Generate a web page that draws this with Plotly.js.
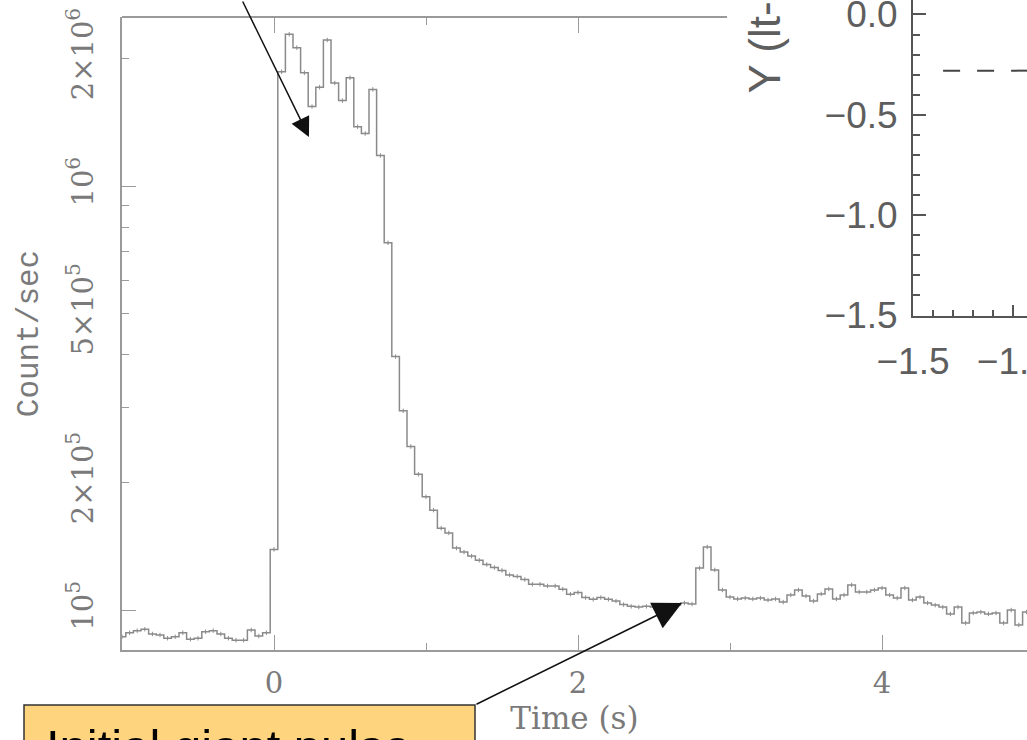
<!DOCTYPE html>
<html>
<head>
<meta charset="utf-8">
<script src="https://cdn.plot.ly/plotly-3.0.1.min.js"></script>
<style>html,body{margin:0;padding:0;background:#fff;overflow:hidden}</style>
</head>
<body>
<div id="chart" style="width:1027px;height:740px"></div>
<script>
// ---- light curve: bin centres (s) and count rates (counts/s) ----
const timeSec = [
 -1.00,-0.95,-0.90,-0.85,-0.80,-0.75,-0.70,-0.65,-0.60,-0.55,
 -0.50,-0.45,-0.40,-0.35,-0.30,-0.25,-0.20,-0.15,-0.10,-0.05,
  0.00, 0.05, 0.10, 0.15, 0.20, 0.25, 0.30, 0.35, 0.40, 0.45,
  0.50, 0.55, 0.60, 0.65, 0.70, 0.75, 0.80, 0.85, 0.90, 0.95,
  1.00, 1.05, 1.10, 1.15, 1.20, 1.25, 1.30, 1.35, 1.40, 1.45,
  1.50, 1.55, 1.60, 1.65, 1.70, 1.75, 1.80, 1.85, 1.90, 1.95,
  2.00, 2.05, 2.10, 2.15, 2.20, 2.25, 2.30, 2.35, 2.40, 2.45,
  2.50, 2.55, 2.60, 2.65, 2.70, 2.75, 2.80, 2.85, 2.90, 2.95,
  3.00, 3.05, 3.10, 3.15, 3.20, 3.25, 3.30, 3.35, 3.40, 3.45,
  3.50, 3.55, 3.60, 3.65, 3.70, 3.75, 3.80, 3.85, 3.90, 3.95,
  4.00, 4.05, 4.10, 4.15, 4.20, 4.25, 4.30, 4.35, 4.40, 4.45,
  4.50, 4.55, 4.60, 4.65, 4.70, 4.75, 4.80, 4.85, 4.90, 4.95
];
const countRate = [
  86500, 88400, 89400, 90100, 87800, 87300, 85800, 86500, 88400, 85300,
  85800, 88900, 89400, 87800, 85800, 84900, 84900, 89700, 86800, 88400,
  139000,1860000,2280000,2120000,1850000,1540000,1710000,2210000,1750000,1590000,
  1800000,1380000,1330000,1690000,1180000, 735000, 396000, 295000, 243000, 209000,
  185000, 172000, 156000, 152000, 140000, 137000, 134000, 131000, 128000, 126000,
  124000, 121000, 120000, 118000, 115000, 115000, 114000, 114000, 112000, 109000,
  110000, 107000, 106000, 107000, 106000, 105000, 103000, 102000, 101600, 102000,
  101600, 101100, 102000, 102700, 103900, 103300, 125600, 140800, 124300, 111500,
  107300, 106200, 106700, 106200, 106700, 105600, 106200, 104400, 108500, 111500,
  107900, 105000, 109100, 112100, 106200, 108500, 114600, 110300, 110300, 111500,
  112700, 108500, 106700, 112700, 105600, 107300, 103900, 102700, 101600, 97900,
  101600, 93200, 98400, 98900, 97900, 98400, 93200, 100000, 92200, 98900
];

// ---- tick labels ----
const xTickVals = [0, 2, 4];
const yTickVals = [1e5, 2e5, 5e5, 1e6, 2e6];
const yTickText = ['10<sup>5</sup>', '2×10<sup>5</sup>', '5×10<sup>5</sup>', '10<sup>6</sup>', '2×10<sup>6</sup>'];
const yMinorVals = [3e5, 4e5, 6e5, 7e5, 8e5, 9e5];
const yMajorVals = [1e5, 1e6];

// ---- inset (partially visible) ----
const insetX = [-1.35, -0.93];
const insetY = [-0.28, -0.28];
const insetXTicks = [-1.5, -1.0];
const insetYTicks = [-1.5, -1.0, -0.5, 0.0];

// ---- annotation targets ----
const arrowTargets = {pulse: [0.23, 1.305e6], spike: [2.684, 1.039e5]};

const gray = '#8a8a8a';
const axGray = '#9a9a9a';
const txtGray = '#7a7a7a';
const inGray = '#5e5e5e';
const serif = 'DejaVu Serif, serif';
const sans = 'Liberation Sans, Arial, sans-serif';

const W = 1027, H = 740;
const mL = 122, mR = 0, mT = 0, mB = 90;
const pw = W - mL - mR, ph = H - mT - mB;
const px2x = p => (p - mL) / pw;
const py2y = p => (ph + mT - p) / ph;

const yTop = py2y(17);
const xTopEnd = px2x(727);
const tScale = 152;
const insetL = px2x(913);
const insetB = py2y(315.5);
const insetScale = 200.7;

const traces = [
  {
    type: 'scatter', mode: 'lines', x: timeSec, y: countRate,
    line: {shape: 'hvh', color: gray, width: 1.5},
    error_y: {type: 'percent', value: 1.2, color: gray, thickness: 1, width: 0},
    xaxis: 'x', yaxis: 'y', hoverinfo: 'skip', showlegend: false
  },
  {type: 'scatter', mode: 'lines', x: [], y: [], xaxis: 'x', yaxis: 'y3', showlegend: false, hoverinfo: 'skip'},
  {type: 'scatter', mode: 'lines', x: [], y: [], xaxis: 'x3', yaxis: 'y', showlegend: false, hoverinfo: 'skip'},
  {
    type: 'scatter', mode: 'lines', x: insetX, y: insetY,
    line: {color: '#444', width: 2, dash: '17px,17px'},
    xaxis: 'x2', yaxis: 'y2', hoverinfo: 'skip', showlegend: false
  }
];

const layout = {
  width: W, height: H,
  margin: {l: mL, r: mR, t: mT, b: mB},
  paper_bgcolor: '#ffffff',
  plot_bgcolor: 'rgba(0,0,0,0)',
  showlegend: false,
  xaxis: {
    domain: [0, 1], anchor: 'y',
    range: [-1, -1 + pw / tScale],
    showline: true, linecolor: axGray, linewidth: 1.5,
    ticks: 'inside', tickmode: 'array', tickvals: xTickVals, ticktext: xTickVals.map(String),
    ticklen: 15, tickwidth: 1.2, tickcolor: axGray,
    minor: {ticks: 'inside', dtick: 1, tick0: 0, ticklen: 7, tickwidth: 1.2, tickcolor: axGray, showgrid: false},
    tickfont: {family: serif, size: 29, color: txtGray},
    ticklabelstandoff: 6,
    showgrid: false, zeroline: false,
    title: {text: 'Time (s)', font: {family: serif, size: 31, color: txtGray}, standoff: 8}
  },
  xaxis3: {
    domain: [0, xTopEnd], anchor: 'free', position: yTop, side: 'top',
    range: [-1, -1 + (727 - mL) / tScale],
    showline: true, linecolor: axGray, linewidth: 1.5,
    ticks: 'inside', tickmode: 'array', tickvals: [0, 2], ticklen: 15, tickwidth: 1.2, tickcolor: axGray,
    minor: {ticks: 'inside', dtick: 1, tick0: 0, ticklen: 7, tickwidth: 1.2, tickcolor: axGray, showgrid: false},
    showticklabels: false, showgrid: false, zeroline: false
  },
  yaxis: {
    domain: [0, yTop], anchor: 'x', type: 'log',
    range: [4.9057, 6.3986],
    showline: true, linecolor: axGray, linewidth: 1.5,
    ticks: 'inside', tickmode: 'array', tickvals: yTickVals, ticktext: yTickText,
    ticklen: 7, tickwidth: 1.2, tickcolor: axGray,
    minor: {ticks: 'inside', tickmode: 'array', tickvals: yMinorVals, ticklen: 7, tickwidth: 1.2, tickcolor: axGray, showgrid: false},
    tickangle: -90,
    tickfont: {family: serif, size: 29, color: txtGray},
    ticklabelstandoff: 16,
    showgrid: false, zeroline: false,
    title: {text: 'Count/sec', font: {family: 'Liberation Mono, monospace', size: 31, color: txtGray}, standoff: 14}
  },
  yaxis3: {
    overlaying: 'y', anchor: 'x', side: 'left', type: 'log',
    range: [4.9057, 6.3986],
    ticks: 'inside', tickmode: 'array', tickvals: yMajorVals, ticklen: 14, tickwidth: 1.2, tickcolor: axGray,
    showticklabels: false, showline: false, showgrid: false, zeroline: false
  },
  xaxis2: {
    domain: [insetL, 1], anchor: 'y2',
    range: [-1.5, -1.5 + (W - 913) / insetScale],
    showline: true, linecolor: '#555', linewidth: 2,
    ticks: 'inside', tickmode: 'array', tickvals: insetXTicks, ticklen: 11, tickwidth: 1.8, tickcolor: '#555',
    minor: {ticks: 'inside', dtick: 0.1, tick0: -1.5, ticklen: 6, tickwidth: 1.8, tickcolor: '#555', showgrid: false},
    tickformat: '.1f',
    tickfont: {family: sans, size: 37, color: inGray},
    ticklabelstandoff: 12, ticklabeloverflow: 'allow',
    showgrid: false, zeroline: false
  },
  yaxis2: {
    domain: [insetB, 1], anchor: 'x2',
    range: [-1.5, -1.5 + (315.5) / insetScale],
    showline: true, linecolor: '#555', linewidth: 2,
    ticks: 'inside', tickmode: 'array', tickvals: insetYTicks, ticklen: 13, tickwidth: 1.8, tickcolor: '#555',
    minor: {ticks: 'inside', dtick: 0.1, tick0: -1.5, ticklen: 7, tickwidth: 1.8, tickcolor: '#555', showgrid: false},
    tickformat: '.1f',
    tickfont: {family: sans, size: 37, color: inGray},
    ticklabelstandoff: 6, ticklabeloverflow: 'allow',
    showgrid: false, zeroline: false
  },
  shapes: [
    {
      type: 'rect', xref: 'paper', yref: 'paper', layer: 'above',
      x0: px2x(24), x1: px2x(475), y0: py2y(705), y1: py2y(780),
      fillcolor: '#FED47F', line: {color: '#333', width: 1.5}
    }
  ],
  annotations: [
    {
      xref: 'x', yref: 'y', x: arrowTargets.pulse[0], y: Math.log10(arrowTargets.pulse[1]),
      text: '', showarrow: true, arrowhead: 2, arrowsize: 2.6, arrowwidth: 1.5, arrowcolor: '#111',
      ax: -67, ay: -150, standoff: 0
    },
    {
      xref: 'x', yref: 'y', x: arrowTargets.spike[0], y: Math.log10(arrowTargets.spike[1]),
      text: '', showarrow: true, arrowhead: 2, arrowsize: 3.8, arrowwidth: 1.5, arrowcolor: '#111',
      ax: -207, ay: 102, standoff: 0
    },
    {
      xref: 'paper', yref: 'paper', x: px2x(44), y: py2y(718), xanchor: 'left', yanchor: 'top',
      text: 'Initial giant pulse', showarrow: false,
      font: {family: sans, size: 49, color: '#000'}
    },
    {
      xref: 'paper', yref: 'paper', x: px2x(764), y: py2y(96), xanchor: 'center', yanchor: 'bottom',
      text: 'Y (lt-sec)', textangle: -90, showarrow: false,
      font: {family: sans, size: 44, color: inGray}
    }
  ]
};

Plotly.newPlot('chart', traces, layout, {displayModeBar: false, responsive: false});
</script>
</body>
</html>
